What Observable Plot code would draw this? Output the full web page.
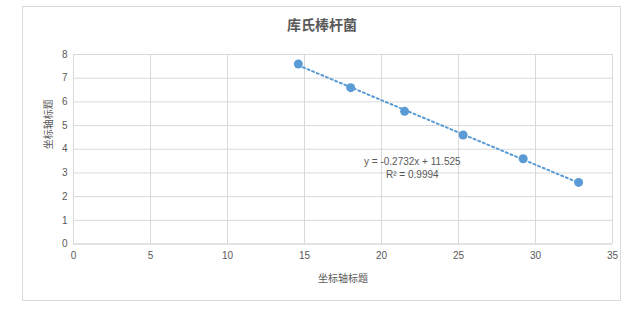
<!DOCTYPE html>
<html><head><meta charset="utf-8">
<script src="https://cdn.jsdelivr.net/npm/d3@7"></script>
<script src="https://cdn.jsdelivr.net/npm/@observablehq/plot@0.6"></script>
<style>
body{margin:0;background:#fff;}
#wrap{position:relative;width:642px;height:315px;overflow:hidden;}
#border{position:absolute;left:22px;top:6px;width:599px;height:295px;border:1px solid #d9d9d9;box-sizing:border-box;}
#title{position:absolute;left:22px;width:600px;top:14px;text-align:center;font:bold 14px "Noto Sans CJK SC",sans-serif;color:#595959;}
#chart{position:absolute;left:0;top:0;}
</style></head>
<body>
<div id="wrap"><div id="border"></div><div id="chart"></div><div id="title">库氏棒杆菌</div></div>
<script>
const xValues = [14.6, 18.0, 21.5, 25.3, 29.2, 32.8];
const yValues = [7.6, 6.6, 5.6, 4.6, 3.6, 2.6];
const xTicks = [0, 5, 10, 15, 20, 25, 30, 35];
const yTicks = [0, 1, 2, 3, 4, 5, 6, 7, 8];
const titleText = "库氏棒杆菌";
const axisTitle = "坐标轴标题";
const eqLines = ["y = -0.2732x + 11.525", "R² = 0.9994"];

const data = xValues.map((x, i) => ({x, y: yValues[i]}));
const font = '"Liberation Sans","Noto Sans CJK SC",sans-serif';

const chart = Plot.plot({
  width: 642, height: 315,
  marginLeft: 73, marginRight: 30, marginTop: 54, marginBottom: 71.5,
  style: {fontFamily: font, fontSize: "10px", color: "#595959", background: "transparent", overflow: "visible"},
  x: {domain: [0, 35], ticks: xTicks, tickSize: 0, tickPadding: 8, label: null},
  y: {domain: [0, 8], ticks: yTicks, tickSize: 0, tickPadding: 6, label: null},
  marks: [
    Plot.gridX(xTicks, {stroke: "#d9d9d9", strokeOpacity: 1}),
    Plot.gridY(yTicks, {stroke: "#d9d9d9", strokeOpacity: 1}),
    Plot.ruleY([0], {stroke: "#d9d9d9"}),
    Plot.axisX({ticks: xTicks, tickSize: 0, tickPadding: 8, label: null, fill: "#595959"}),
    Plot.axisY({ticks: yTicks, tickSize: 0, tickPadding: 6, label: null, fill: "#595959"}),
    Plot.linearRegressionY(data, {x: "x", y: "y", ci: 0, stroke: "#5b9bd5", strokeWidth: 2, strokeDasharray: "2,3"}),
    Plot.dot(data, {x: "x", y: "y", r: 4.5, fill: "#5b9bd5", stroke: "none"}),
    Plot.text([eqLines.join("\n")], {x: 22.0, y: 3.25, text: d => d, fill: "#595959", fontSize: 10, lineHeight: 1.3, textAnchor: "middle"}),
    Plot.text([axisTitle], {frameAnchor: "bottom", dy: 38, text: d => d, fill: "#595959", fontSize: 10}),
    Plot.text([axisTitle], {frameAnchor: "left", dx: -25, rotate: -90, text: d => d, fill: "#595959", fontSize: 10})
  ]
});
document.getElementById("chart").appendChild(chart);
</script>
</body></html>
